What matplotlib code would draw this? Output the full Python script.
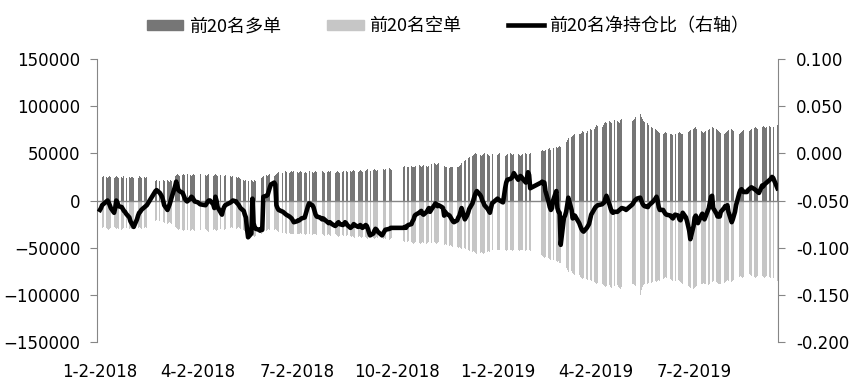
import datetime as dt
import matplotlib
matplotlib.use("Agg")
import matplotlib.pyplot as plt
import matplotlib.dates as mdates
from matplotlib.patches import Patch
from matplotlib.lines import Line2D
import numpy as np

# trading calendar (weekdays minus exchange holidays)
first_day = dt.date(2018, 1, 2)
last_day = dt.date(2019, 9, 16)
holidays = ["2018-01-01", "2018-02-15", "2018-02-16", "2018-02-19", "2018-02-20",
            "2018-02-21", "2018-04-05", "2018-04-06", "2018-04-30", "2018-05-01",
            "2018-06-18", "2018-09-24", "2018-10-01", "2018-10-02", "2018-10-03",
            "2018-10-04", "2018-10-05", "2018-12-31", "2019-01-01", "2019-02-04",
            "2019-02-05", "2019-02-06", "2019-02-07", "2019-02-08", "2019-04-05",
            "2019-05-01", "2019-05-02", "2019-05-03", "2019-06-07", "2019-09-13"]

# top 20 long positions, thousands of lots (one row per month)
long_k = [
    25, 24, 25, 26, 25, 24, 25, 26, 25, 24, 25, 26, 25, 24, 25, 24, 26, 25, 24, 25, 24, 25,
    25, 24, 25, 24, 26, 25, 24, 25, 24, 25, 21, 22, 21, 20, 21,
    22, 21, 22, 21, 20, 22, 21, 26, 27, 28, 27, 26, 27, 28, 27, 26, 28, 27, 26, 27, 28, 27,
    26, 27, 28, 27, 26, 27, 28, 27, 26, 27, 28, 27, 26, 27, 28, 27, 26, 27,
    26, 25, 26, 25, 24, 25, 24, 23, 22, 21, 22, 20, 21, 22, 21, 20, 22, 21, 22, 23, 24, 25,
    26, 27, 26, 27, 28, 27, 26, 27, 28, 29, 30, 29, 30, 31, 30, 29, 30, 31, 30, 31,
    30, 29, 30, 31, 30, 29, 30, 29, 30, 31, 30, 29, 30, 31, 30, 29, 30, 31, 30, 29, 30, 31,
    30, 31, 30, 29, 30, 31, 30, 29, 30, 31, 32, 31, 30, 31, 30, 31, 32, 31, 30, 31, 32, 31, 30,
    31, 32, 33, 32, 31, 32, 33, 32, 31, 32, 33, 34, 33, 32, 33, 34, 33, 32, 33,
    36, 37, 36, 35, 36, 37, 36, 35, 36, 37, 38, 37, 36, 37, 38, 37, 36, 37,
    38, 39, 40, 39, 38, 39, 40, 39, 38, 37, 36, 35, 34, 35, 36, 35, 34, 35, 36, 37, 38, 40,
    42, 43, 44, 45, 46, 47, 48, 49, 50, 49, 48, 47, 48, 49, 50, 49, 48, 47, 48, 49,
    48, 49, 50, 49, 48, 47, 48, 49, 50, 49, 48, 49, 50, 49, 48, 47, 48, 49, 50, 49, 48, 49,
    50, 53, 54, 53, 52, 54, 55, 56, 54, 55, 56, 57, 56, 57, 58,
    57, 58, 60, 62, 64, 66, 67, 68, 69, 70, 72, 71, 70, 72, 74, 73, 72, 74, 75, 76, 75,
    76, 78, 80, 79, 78, 80, 82, 83, 82, 84, 83, 82, 84, 85, 84, 83, 82, 85, 86, 84, 83,
    84, 85, 86, 88, 87, 92, 88, 86, 84, 83, 82, 80, 79, 78, 77, 76, 75, 74, 73, 72,
    71, 72, 73, 72, 71, 70, 69, 70, 71, 72, 73, 72, 71, 70, 71, 72, 73, 74, 75,
    76, 77, 78, 76, 75, 74, 73, 72, 73, 74, 75, 76, 77, 78, 77, 76, 75, 74, 73, 72, 71, 72, 73,
    74, 75, 76, 75, 74, 73, 72, 71, 72, 73, 74, 75, 76, 75, 74, 75, 76, 77, 78, 77, 76, 77,
    78, 79, 78, 77, 78, 79, 78, 77, 78, 80,
]

# top 20 short positions, thousands of lots
short_k = [
    29, 30, 29, 28, 29, 30, 31, 30, 29, 28, 29, 30, 29, 30, 31, 30, 29, 28, 29, 30, 29, 30,
    30, 29, 30, 29, 28, 29, 30, 29, 28, 29, 22, 21, 22, 23, 22,
    23, 24, 25, 24, 23, 24, 25, 28, 29, 30, 31, 30, 31, 32, 31, 30, 31, 32, 31, 30, 31, 32,
    31, 32, 31, 30, 31, 32, 33, 32, 31, 30, 31, 32, 31, 30, 31, 32, 31, 30,
    29, 28, 29, 30, 29, 28, 29, 30, 31, 32, 33, 34, 35, 36, 37, 38, 39, 38, 37, 36, 35, 34,
    33, 32, 31, 30, 31, 32, 31, 30, 31, 32, 33, 34, 33, 34, 35, 34, 35, 36, 35, 36,
    35, 36, 35, 34, 35, 36, 37, 36, 35, 36, 37, 36, 35, 36, 37, 38, 37, 36, 37, 38, 37, 36,
    37, 38, 37, 36, 37, 38, 39, 38, 37, 38, 39, 38, 37, 38, 39, 38, 39, 40, 39, 38, 39, 40, 39,
    39, 40, 41, 40, 39, 40, 41, 40, 39, 40, 41, 42, 41, 40, 41, 42, 41, 40, 41,
    43, 44, 45, 44, 43, 44, 45, 46, 45, 44, 45, 46, 45, 44, 45, 46, 45, 44,
    44, 45, 44, 45, 46, 45, 44, 45, 46, 47, 46, 47, 48, 47, 48, 49, 48, 49, 50, 49, 50, 51,
    50, 51, 52, 53, 54, 55, 54, 55, 56, 57, 56, 55, 56, 57, 56, 55, 54, 55, 54, 53,
    52, 53, 52, 51, 52, 53, 54, 53, 52, 53, 54, 53, 52, 53, 54, 53, 52, 53, 54, 53, 52, 53,
    54, 58, 59, 60, 61, 60, 61, 62, 63, 62, 63, 64, 65, 64, 66,
    66, 68, 70, 72, 74, 76, 75, 77, 78, 79, 80, 79, 81, 82, 83, 82, 83, 84, 85, 84, 85,
    86, 87, 88, 87, 88, 90, 91, 92, 91, 90, 92, 93, 92, 91, 90, 92, 93, 94, 92, 91, 90,
    88, 89, 90, 91, 92, 100, 95, 92, 90, 89, 88, 87, 88, 87, 86, 85, 86, 85, 84, 85,
    83, 82, 81, 82, 83, 84, 85, 86, 85, 84, 85, 86, 87, 88, 89, 90, 91, 92, 93,
    94, 93, 92, 91, 90, 89, 88, 87, 88, 89, 90, 88, 87, 86, 85, 86, 87, 88, 89, 88, 87, 86, 85,
    84, 85, 86, 85, 84, 83, 82, 81, 80, 81, 82, 81, 80, 79, 78, 79, 80, 81, 82, 81, 80, 81,
    80, 81, 82, 81, 80, 81, 82, 81, 82, 85,
]

# top 20 net holding ratio (right axis)
net_ratio = [
    -0.060, -0.058, -0.055, -0.054, -0.051, -0.050, -0.052, -0.055, -0.058, -0.063, -0.058,
    -0.050, -0.052, -0.056, -0.057, -0.059, -0.061, -0.062, -0.064, -0.068, -0.072, -0.074,
    -0.076, -0.078, -0.070, -0.066, -0.063, -0.062, -0.060, -0.057, -0.056, -0.055, -0.040,
    -0.039, -0.042, -0.044, -0.046,
    -0.050, -0.055, -0.060, -0.057, -0.054, -0.050, -0.046, -0.035, -0.030, -0.034, -0.039,
    -0.040, -0.042, -0.045, -0.048, -0.050, -0.051, -0.048, -0.046, -0.047, -0.049, -0.051,
    -0.052, -0.053, -0.054, -0.055, -0.053, -0.051, -0.050, -0.050, -0.054, -0.058, -0.046,
    -0.050, -0.057, -0.063, -0.065, -0.060, -0.057, -0.055,
    -0.052, -0.051, -0.050, -0.051, -0.053, -0.054, -0.056, -0.058, -0.061, -0.065, -0.068,
    -0.080, -0.089, -0.085, -0.048, -0.074, -0.078, -0.080, -0.081, -0.082, -0.080, -0.081,
    -0.046, -0.045, -0.044, -0.040, -0.036, -0.033, -0.031, -0.033, -0.055, -0.058, -0.060,
    -0.062, -0.063, -0.064, -0.065, -0.067, -0.068, -0.069, -0.071, -0.073,
    -0.072, -0.071, -0.071, -0.070, -0.069, -0.068, -0.064, -0.060, -0.056, -0.053, -0.055,
    -0.057, -0.061, -0.065, -0.067, -0.068, -0.069, -0.070, -0.069, -0.070, -0.073, -0.074,
    -0.073, -0.074, -0.075, -0.077, -0.076, -0.074, -0.073, -0.075, -0.076, -0.075, -0.073,
    -0.074, -0.076, -0.079, -0.078, -0.077, -0.075, -0.076, -0.078, -0.077, -0.076, -0.078,
    -0.079,
    -0.076, -0.077, -0.080, -0.084, -0.087, -0.085, -0.082, -0.080, -0.081, -0.083, -0.086,
    -0.087, -0.085, -0.083, -0.081, -0.080, -0.079, -0.079, -0.079,
    -0.079, -0.078, -0.079, -0.077, -0.076, -0.075, -0.072, -0.070, -0.066, -0.065, -0.063,
    -0.062, -0.061, -0.064, -0.065, -0.062, -0.060, -0.058,
    -0.062, -0.060, -0.055, -0.053, -0.054, -0.056, -0.055, -0.057, -0.058, -0.066, -0.062,
    -0.064, -0.066, -0.068, -0.070, -0.072, -0.073, -0.071, -0.068, -0.066, -0.062, -0.058,
    -0.070, -0.068, -0.066, -0.063, -0.059, -0.053, -0.049, -0.045, -0.042, -0.040, -0.044,
    -0.046, -0.050, -0.052, -0.055, -0.059, -0.061, -0.063, -0.058, -0.053,
    -0.048, -0.049, -0.050, -0.052, -0.045, -0.037, -0.031, -0.028, -0.027, -0.026, -0.024,
    -0.021, -0.023, -0.028, -0.026, -0.024, -0.025, -0.027, -0.031, -0.026, -0.020, -0.023,
    -0.037, -0.031, -0.030, -0.032, -0.031, -0.040, -0.052, -0.057, -0.060, -0.058, -0.050,
    -0.040, -0.058, -0.062, -0.063,
    -0.097, -0.068, -0.066, -0.062, -0.055, -0.047, -0.060, -0.069, -0.067, -0.066, -0.068,
    -0.074, -0.077, -0.080, -0.082, -0.083, -0.079, -0.077, -0.075, -0.070, -0.065,
    -0.059, -0.057, -0.056, -0.055, -0.054, -0.053, -0.052, -0.048, -0.045, -0.055, -0.059,
    -0.062, -0.063, -0.062, -0.062, -0.061, -0.060, -0.059, -0.058, -0.059, -0.060,
    -0.054, -0.052, -0.050, -0.049, -0.048, -0.047, -0.050, -0.053, -0.055, -0.056, -0.057,
    -0.055, -0.054, -0.053, -0.052, -0.048, -0.046, -0.050, -0.057, -0.060,
    -0.060, -0.062, -0.064, -0.065, -0.066, -0.068, -0.069, -0.067, -0.065, -0.066, -0.070,
    -0.071, -0.068, -0.063, -0.068, -0.072, -0.077, -0.082, -0.091,
    -0.077, -0.068, -0.066, -0.072, -0.074, -0.066, -0.064, -0.068, -0.070, -0.067, -0.058,
    -0.052, -0.046, -0.045, -0.058, -0.064, -0.067, -0.066, -0.067, -0.062, -0.058, -0.056,
    -0.058,
    -0.055, -0.062, -0.073, -0.070, -0.066, -0.062, -0.055, -0.042, -0.039, -0.038, -0.040,
    -0.041, -0.041, -0.039, -0.038, -0.037, -0.036, -0.038, -0.039, -0.040, -0.041, -0.042,
    -0.034, -0.035, -0.033, -0.032, -0.031, -0.028, -0.027, -0.025, -0.026, -0.037,
]

tick_dates = ["2018-01-02", "2018-04-02", "2018-07-02", "2018-10-02",
              "2019-01-02", "2019-04-02", "2019-07-02"]
tick_labels = ["1-2-2018", "4-2-2018", "7-2-2018", "10-2-2018",
               "1-2-2019", "4-2-2019", "7-2-2019"]
right_ticks = [-0.2, -0.15, -0.1, -0.05, 0.0, 0.05, 0.1]
legend_labels = ["前20名多单", "前20名空单", "前20名净持仓比（右轴）"]

closed = set(dt.date.fromisoformat(h) for h in holidays)
days = []
d = first_day
while d <= last_day:
    if d.weekday() < 5 and d not in closed:
        days.append(d)
    d += dt.timedelta(days=1)
x = mdates.date2num(days)

long_v = np.array(long_k) * 1000
short_v = -np.array(short_k) * 1000

DARK = "#767676"
LIGHT = "#c6c6c6"
AXC = "#868686"

fig = plt.figure(figsize=(8.62, 3.89), dpi=100)
ax = fig.add_axes([97 / 862, 47 / 389, 681 / 862, 283 / 389])
ax.bar(x, long_v, width=0.8, color=DARK, linewidth=0)
ax.bar(x, short_v, width=0.8, color=LIGHT, linewidth=0)
ax.axhline(0, color=AXC, lw=1, zorder=3)
ax.set_ylim(-150000, 150000)
ax.set_yticks(np.arange(-150000, 150001, 50000))
ax.set_xlim(mdates.date2num(first_day) - 2.7, mdates.date2num(last_day) + 0.5)
ax.set_xticks(mdates.date2num([dt.date.fromisoformat(t) for t in tick_dates]))
ax.set_xticklabels(tick_labels)
ax.tick_params(axis="x", length=0, pad=15, labelsize=12)
ax.tick_params(axis="y", direction="out", length=5, color=AXC, pad=7, labelsize=12)
for s in ["top", "bottom", "right"]:
    ax.spines[s].set_visible(False)
ax.spines["left"].set_color(AXC)

ax2 = ax.twinx()
ax2.plot(x, net_ratio, color="black", lw=3.3, solid_joinstyle="round")
ax2.set_ylim(-0.2, 0.1)
ax2.set_yticks(right_ticks)
ax2.set_yticklabels(["%.3f" % v for v in right_ticks])
ax2.tick_params(axis="y", direction="out", length=5, color=AXC, pad=8, labelsize=12)
for s in ["top", "bottom", "left"]:
    ax2.spines[s].set_visible(False)
ax2.spines["right"].set_color(AXC)

handles = [Patch(color=DARK), Patch(color=LIGHT), Line2D([], [], color="black", lw=3.3)]
fig.legend(handles, legend_labels, loc="center", bbox_to_anchor=(0.52, 0.933), ncol=3,
           frameon=False, handlelength=2.0, handleheight=0.5, handletextpad=0.3,
           columnspacing=2.6,
           prop={"family": ["Noto Sans CJK SC", "DejaVu Sans"], "size": 13})

fig.savefig("out.png", dpi=100)
